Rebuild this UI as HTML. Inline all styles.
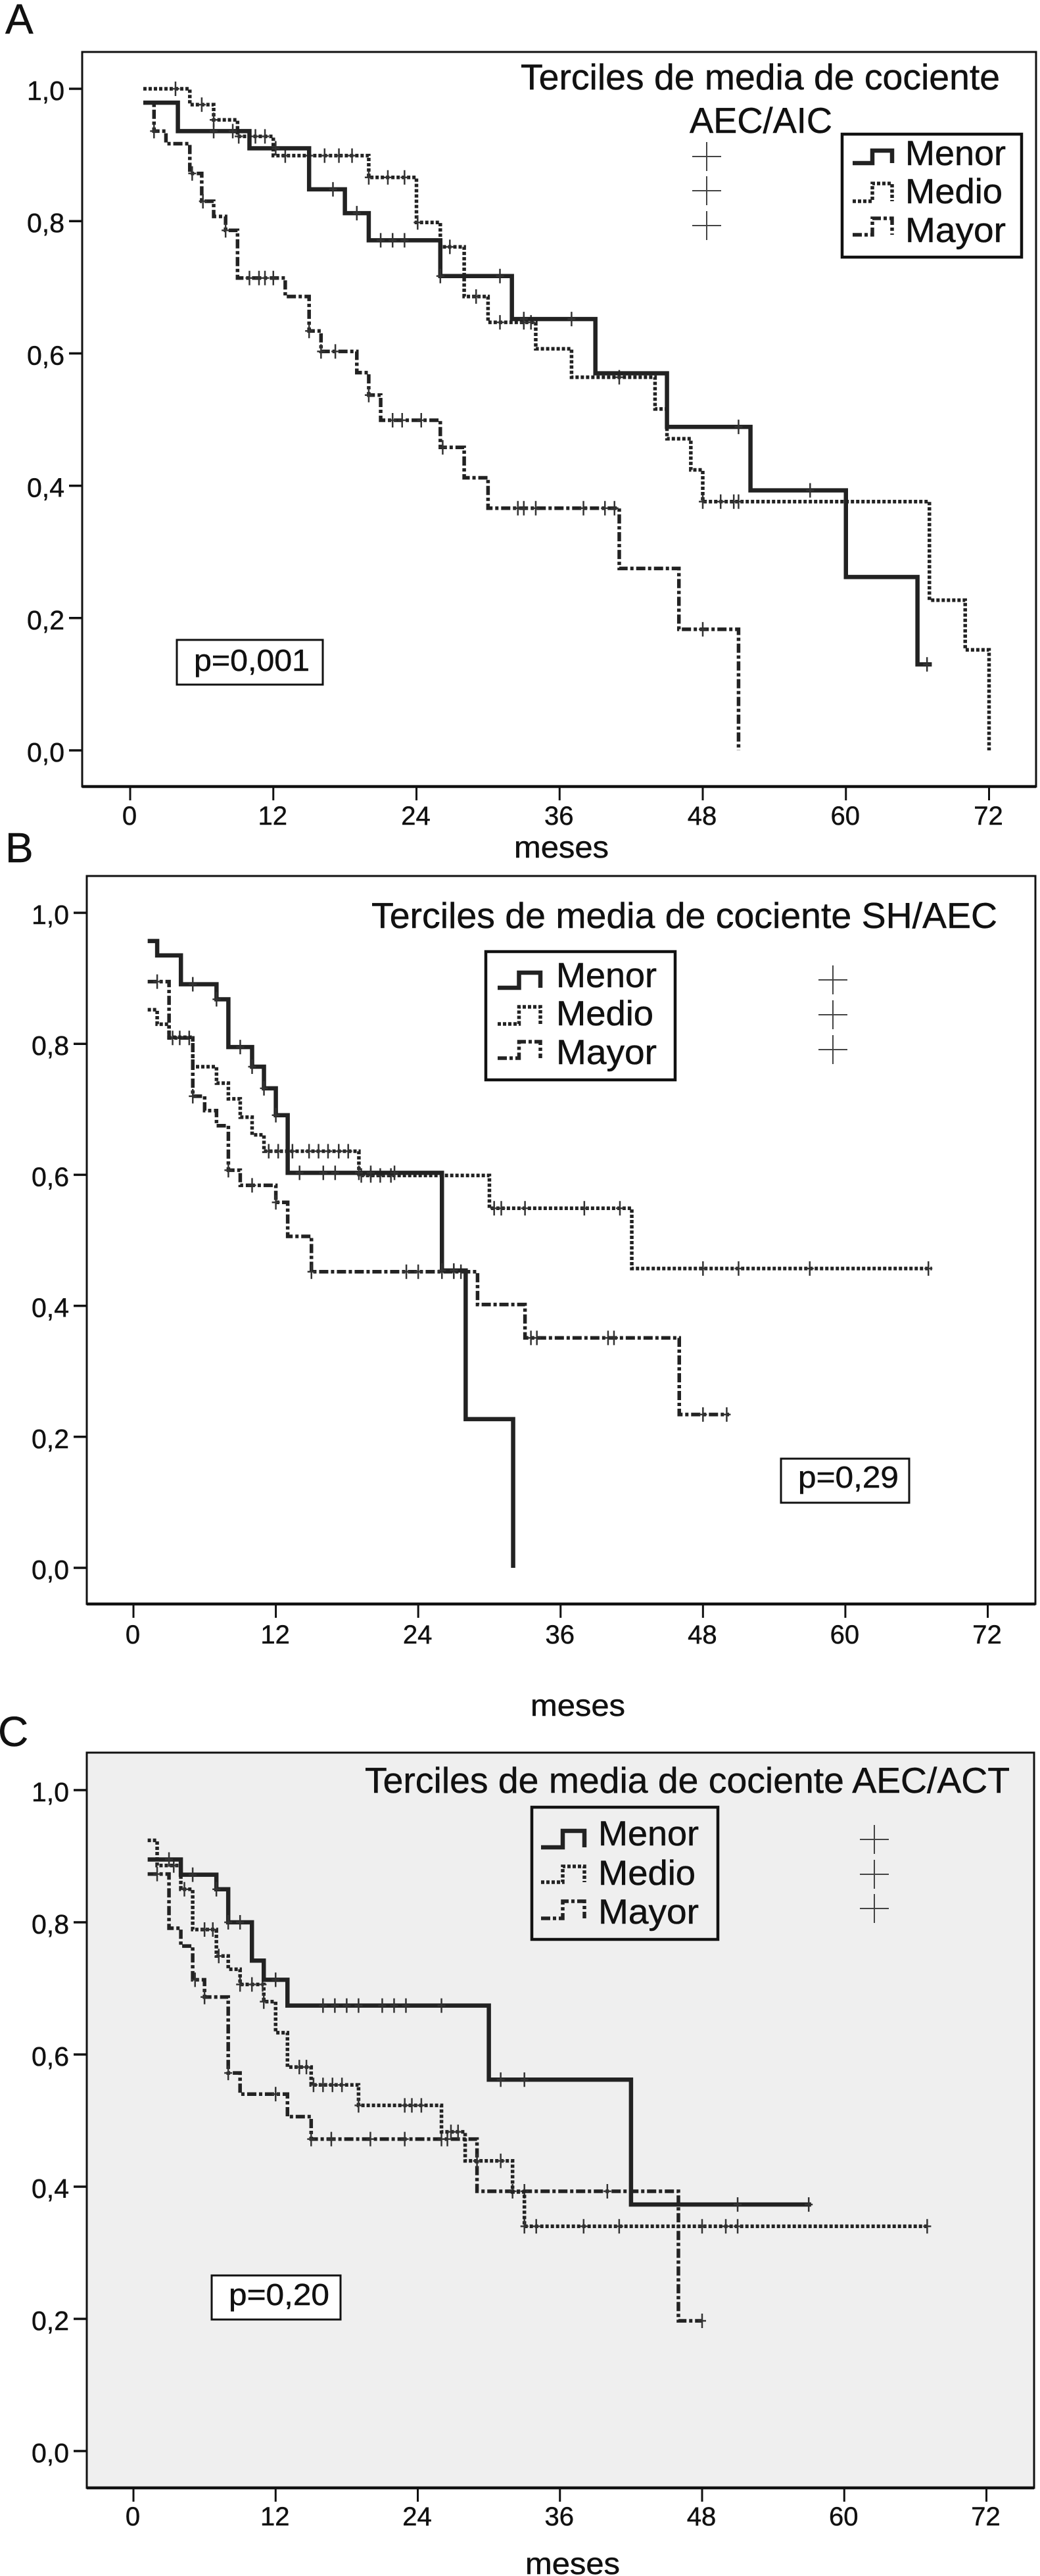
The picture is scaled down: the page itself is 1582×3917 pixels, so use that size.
<!DOCTYPE html>
<html lang="es">
<head>
<meta charset="utf-8">
<title>Curvas de supervivencia por terciles</title>
<style>
html,body{margin:0;padding:0;background:#fff;}
svg{display:block;font-family:"Liberation Sans",Arial,sans-serif;fill:#111;}
svg text{stroke:#111;stroke-width:0.5px;}
</style>
</head>
<body>
<svg id="chart" xmlns="http://www.w3.org/2000/svg" width="1582" height="3917" viewBox="0 0 1582 3917">
  <text x="8" y="51" font-size="64">A</text>
  <text x="8" y="1311" font-size="64">B</text>
  <text x="-3" y="2655" font-size="64">C</text>
  <g id="panelA"></g>
  <g id="panelB"></g>
  <g id="panelC"></g>
</svg>
<script>
// Shared tick labels
const xTickValues = [0, 12, 24, 36, 48, 60, 72];
const yTickValues = [0, 0.2, 0.4, 0.6, 0.8, 1.0];
const seriesNames = ['Menor', 'Medio', 'Mayor'];

// Panel A (AEC/AIC)
const aMenorTimes = [1.1, 4, 10, 15, 18, 20, 26, 32, 39, 45, 52, 60, 66, 67.2];
const aMenorSurvival = [0.979, 0.936, 0.91, 0.848, 0.812, 0.771, 0.717, 0.652, 0.57, 0.489, 0.393, 0.262, 0.13, 0.13];
const aMenorCensored = [7, 8.6, 12.2, 17, 19, 21, 22, 23, 26, 31, 33, 37, 51, 57, 66.8];
const aMedioTimes = [1.1, 5, 7, 9, 12, 20, 24, 26, 28, 30, 34, 37, 44, 45, 47, 48, 67, 70, 72];
const aMedioSurvival = [1, 0.976, 0.953, 0.928, 0.899, 0.866, 0.798, 0.761, 0.686, 0.647, 0.607, 0.564, 0.516, 0.471, 0.424, 0.376, 0.227, 0.152, 0];
const aMedioCensored = [3.8, 6, 7, 9.1, 10.5, 11.3, 13, 15, 16.3, 17.5, 18.6, 20, 21.6, 23, 24.1, 26.8, 29, 31, 33, 33.6, 41, 48, 49.5, 50.6, 51];
const aMayorTimes = [1.1, 2, 3, 5, 6, 7, 8, 9, 13, 15, 16, 19, 20, 21, 26, 28, 30, 41, 46, 51];
const aMayorSurvival = [0.979, 0.936, 0.917, 0.872, 0.83, 0.807, 0.786, 0.714, 0.686, 0.634, 0.603, 0.571, 0.537, 0.499, 0.458, 0.412, 0.366, 0.275, 0.183, 0];
const aMayorCensored = [2, 5.2, 6.1, 8, 10, 10.8, 11.3, 12, 15, 16, 17.2, 20, 22, 22.8, 24.4, 26.2, 32.5, 33, 34, 38, 39.8, 40.6, 48];

// Panel B (SH/AEC)
const bMenorTimes = [1.2, 2, 4, 7, 8, 10, 11, 12, 13, 26, 28, 32];
const bMenorSurvival = [0.957, 0.935, 0.891, 0.868, 0.795, 0.765, 0.732, 0.691, 0.603, 0.454, 0.227, 0];
const bMenorCensored = [5, 7, 9, 10, 11, 12, 14, 16, 17, 19, 20, 22, 26, 27];
const bMedioTimes = [1.2, 2, 3, 5, 7, 8, 9, 10, 11, 19, 30, 42, 67.3];
const bMedioSurvival = [0.852, 0.83, 0.81, 0.765, 0.74, 0.716, 0.688, 0.661, 0.636, 0.599, 0.549, 0.457, 0.457];
const bMedioCensored = [11.4, 12.2, 13.4, 14.8, 15.6, 16.4, 17.3, 18.1, 19.2, 20, 20.8, 21.7, 30.4, 31, 33, 38, 41, 48, 51, 57, 67];
const bMayorTimes = [1.2, 3, 5, 6, 7, 8, 9, 12, 13, 15, 29, 33, 46, 50.2];
const bMayorSurvival = [0.895, 0.809, 0.72, 0.698, 0.675, 0.607, 0.584, 0.558, 0.506, 0.452, 0.402, 0.351, 0.234, 0.234];
const bMayorCensored = [2, 3.3, 3.9, 4.7, 5, 8, 10, 12, 15, 23, 24, 26, 27, 27.6, 33.5, 34, 40, 40.5, 48, 50];

// Panel C (AEC/ACT)
const cMenorTimes = [1.2, 4, 7, 8, 10, 11, 13, 30, 42, 57.2];
const cMenorSurvival = [0.895, 0.872, 0.85, 0.8, 0.742, 0.713, 0.674, 0.562, 0.373, 0.373];
const cMenorCensored = [3, 5, 7, 8, 9, 12, 16, 17, 18, 19, 21, 22, 23, 26, 31, 33, 51, 57];
const cMedioTimes = [1.2, 2, 4, 5, 7, 8, 9, 11, 12, 13, 15, 19, 26, 28, 32, 33, 67];
const cMedioSurvival = [0.924, 0.886, 0.85, 0.789, 0.749, 0.729, 0.706, 0.68, 0.633, 0.581, 0.554, 0.523, 0.483, 0.439, 0.392, 0.34, 0.34];
const cMedioCensored = [3.4, 4.3, 6, 6.7, 7.2, 9, 10, 10.9, 11, 14, 14.6, 15.2, 16, 16.8, 17.6, 19, 22.9, 23.5, 24.3, 26.8, 27.4, 29, 31, 33, 34, 38, 41, 48, 50, 51, 67];
const cMayorTimes = [1.2, 3, 4, 5, 6, 8, 9, 13, 15, 29, 46, 48];
const cMayorSurvival = [0.873, 0.791, 0.764, 0.713, 0.687, 0.572, 0.54, 0.506, 0.472, 0.393, 0.197, 0.197];
const cMayorCensored = [2, 5.2, 6, 8, 12, 15, 16.7, 20, 22.9, 26, 26.5, 32, 33, 40, 48];

const NS = 'http://www.w3.org/2000/svg';
const dashStyles = { Menor: '', Medio: '5 3', Mayor: '14 4 5 4' };
const widthStyles = { Menor: 6.5, Medio: 5.5, Mayor: 5.5 };

function make(tag, attrs, parent) {
  const el = document.createElementNS(NS, tag);
  for (const k in attrs) el.setAttribute(k, attrs[k]);
  parent.appendChild(el);
  return el;
}

function stepValue(times, survival, t) {
  let v = survival[0];
  for (let i = 0; i < times.length; i++) {
    if (times[i] <= t) v = survival[i];
  }
  return v;
}

function drawLabel(parent, name, str, x, y, size, width, anchor) {
  const t = make('text', { x: x, y: y, 'font-size': size, 'text-anchor': anchor || 'start' }, parent);
  
  
  if (width) {
    t.setAttribute('textLength', width);
    t.setAttribute('lengthAdjust', 'spacingAndGlyphs');
  }
  t.textContent = str;
  return t;
}

function drawSeries(parent, cfg, label, times, survival, censored, xScale, yScale) {
  const g = make('g', {}, parent);
  
  
  let d = 'M' + xScale(times[0]) + ' ' + yScale(survival[0]);
  for (let i = 1; i < times.length; i++) {
    d += 'H' + xScale(times[i]) + 'V' + yScale(survival[i]);
  }
  const line = make('path', { d: d, fill: 'none', stroke: '#222', 'stroke-width': widthStyles[label] }, g);
  
  
  if (dashStyles[label]) line.setAttribute('stroke-dasharray', dashStyles[label]);
  censored.forEach(function (t) {
    const cx = xScale(t);
    const cy = yScale(stepValue(times, survival, t));
    const mark = make('path', { d: 'M' + cx + ' ' + (cy - 11) + 'V' + (cy + 11) + 'M' + (cx - 6) + ' ' + cy + 'H' + (cx + 6), stroke: '#333', 'stroke-width': 2.5, fill: 'none' }, g);
    
    
  });
}

function drawPanel(cfg) {
  const p = document.getElementById(cfg.id);
  const xScale = function (t) { return cfg.x0 + (cfg.x72 - cfg.x0) * t / 72; };
  const yScale = function (v) { return cfg.y0 + (cfg.y1 - cfg.y0) * v; };

  const frame = make('rect', { x: cfg.left, y: cfg.top, width: cfg.right - cfg.left, height: cfg.bottom - cfg.top, fill: cfg.fill, stroke: '#111', 'stroke-width': 3 }, p);
  
  
  const base = make('line', { x1: cfg.left, x2: cfg.right, y1: cfg.bottom, y2: cfg.bottom, stroke: '#111', 'stroke-width': 4.5 }, p);
  
  

  yTickValues.forEach(function (v) {
    const y = yScale(v);
    const tick = make('line', { x1: cfg.left - 20, x2: cfg.left, y1: y, y2: y, stroke: '#111', 'stroke-width': 3.5 }, p);
    
    
    drawLabel(p, 'y-tick-label', v.toFixed(1).replace('.', ','), cfg.left - 27, y + 17, 41, 0, 'end');
  });
  xTickValues.forEach(function (m) {
    const x = xScale(m);
    const tick = make('line', { x1: x, x2: x, y1: cfg.bottom, y2: cfg.bottom + 21, stroke: '#111', 'stroke-width': 3 }, p);
    
    
    drawLabel(p, 'x-tick-label', String(m), x - 1, cfg.xLabelY, 40, 0, 'middle');
  });
  drawLabel(p, 'x-axis-title', 'meses', cfg.mesesX, cfg.mesesY, 46, 144);

  cfg.series.slice().reverse().forEach(function (s) {
    drawSeries(p, cfg, s.label, s.times, s.survival, s.censored, xScale, yScale);
  });

  cfg.title.forEach(function (t) {
    drawLabel(p, 'legend-title', t.text, t.x, t.y, 55, t.w);
  });

  const lb = cfg.legend;
  const box = make('rect', { x: lb.x, y: lb.y, width: lb.w, height: lb.h, fill: cfg.fill, stroke: '#111', 'stroke-width': 4.5 }, p);
  
  
  seriesNames.forEach(function (name, i) {
    const r = lb.rows[i];
    const sx = lb.swX, sw = lb.swW;
    const glyph = make('path', { d: 'M' + sx + ' ' + r.sw0 + 'H' + (sx + sw / 2) + 'V' + r.sw1 + 'H' + (sx + sw) + 'V' + r.sw0, fill: 'none', stroke: '#222', 'stroke-width': widthStyles[name] }, p);
    
    
    if (dashStyles[name]) glyph.setAttribute('stroke-dasharray', dashStyles[name]);
    drawLabel(p, 'legend-label-' + name.toLowerCase(), name, lb.textX, r.base, 53, name === 'Medio' ? 148 : 153);
    const plus = make('path', { d: 'M' + lb.plusX + ' ' + (r.plus - 22) + 'V' + (r.plus + 22) + 'M' + (lb.plusX - 22) + ' ' + r.plus + 'H' + (lb.plusX + 22), stroke: '#444', 'stroke-width': 2, fill: 'none' }, p);
    
    
  });

  const pb = cfg.pBox;
  const pRect = make('rect', { x: pb.x, y: pb.y, width: pb.w, height: pb.h, fill: '#fff', stroke: '#111', 'stroke-width': 3 }, p);
  
  
  drawLabel(p, 'p-value-text', pb.text, pb.tx, pb.ty, 46, pb.tw);
}

drawPanel({
  id: 'panelA', fill: '#ffffff',
  left: 125, right: 1576, top: 79, bottom: 1196,
  x0: 198, x72: 1504.5, y0: 1141, y1: 135,
  xLabelY: 1254, mesesX: 782, mesesY: 1304,
  title: [
    { text: 'Terciles de media de cociente', x: 792, y: 136, w: 729 },
    { text: 'AEC/AIC', x: 1049, y: 202, w: 217 }
  ],
  legend: {
    x: 1281, y: 204, w: 273, h: 187, swX: 1297, swW: 60, textX: 1377, plusX: 1075,
    rows: [
      { base: 251, sw0: 248, sw1: 229, plus: 238 },
      { base: 309, sw0: 306, sw1: 279, plus: 290 },
      { base: 368, sw0: 357, sw1: 332, plus: 343 }
    ]
  },
  pBox: { x: 269, y: 973, w: 222, h: 68, text: 'p=0,001', tx: 295, ty: 1020, tw: 176 },
  series: [
    { label: 'Menor', times: aMenorTimes, survival: aMenorSurvival, censored: aMenorCensored },
    { label: 'Medio', times: aMedioTimes, survival: aMedioSurvival, censored: aMedioCensored },
    { label: 'Mayor', times: aMayorTimes, survival: aMayorSurvival, censored: aMayorCensored }
  ]
});

drawPanel({
  id: 'panelB', fill: '#ffffff',
  left: 132, right: 1575, top: 1332, bottom: 2439,
  x0: 203, x72: 1502.5, y0: 2384, y1: 1388,
  xLabelY: 2499, mesesX: 807, mesesY: 2609,
  title: [
    { text: 'Terciles de media de cociente SH/AEC', x: 565, y: 1411, w: 952 }
  ],
  legend: {
    x: 739, y: 1447, w: 288, h: 195, swX: 757, swW: 65, textX: 846, plusX: 1267,
    rows: [
      { base: 1501, sw0: 1502, sw1: 1479, plus: 1490 },
      { base: 1559, sw0: 1557, sw1: 1531, plus: 1543 },
      { base: 1618, sw0: 1609, sw1: 1584, plus: 1596 }
    ]
  },
  pBox: { x: 1188, y: 2218, w: 195, h: 67, text: 'p=0,29', tx: 1214, ty: 2262, tw: 153 },
  series: [
    { label: 'Menor', times: bMenorTimes, survival: bMenorSurvival, censored: bMenorCensored },
    { label: 'Medio', times: bMedioTimes, survival: bMedioSurvival, censored: bMedioCensored },
    { label: 'Mayor', times: bMayorTimes, survival: bMayorSurvival, censored: bMayorCensored }
  ]
});

drawPanel({
  id: 'panelC', fill: '#efefef',
  left: 132, right: 1573, top: 2665, bottom: 3783,
  x0: 203, x72: 1500.5, y0: 3727, y1: 2722,
  xLabelY: 3840, mesesX: 799, mesesY: 3914,
  title: [
    { text: 'Terciles de media de cociente AEC/ACT', x: 555, y: 2726, w: 981 }
  ],
  legend: {
    x: 809, y: 2748, w: 283, h: 201, swX: 823, swW: 66, textX: 910, plusX: 1330,
    rows: [
      { base: 2806, sw0: 2809, sw1: 2784, plus: 2797 },
      { base: 2866, sw0: 2862, sw1: 2838, plus: 2850 },
      { base: 2925, sw0: 2917, sw1: 2891, plus: 2902 }
    ]
  },
  pBox: { x: 322, y: 3460, w: 196, h: 67, text: 'p=0,20', tx: 348, ty: 3505, tw: 153 },
  series: [
    { label: 'Menor', times: cMenorTimes, survival: cMenorSurvival, censored: cMenorCensored },
    { label: 'Medio', times: cMedioTimes, survival: cMedioSurvival, censored: cMedioCensored },
    { label: 'Mayor', times: cMayorTimes, survival: cMayorSurvival, censored: cMayorCensored }
  ]
});
</script>
</body>
</html>
